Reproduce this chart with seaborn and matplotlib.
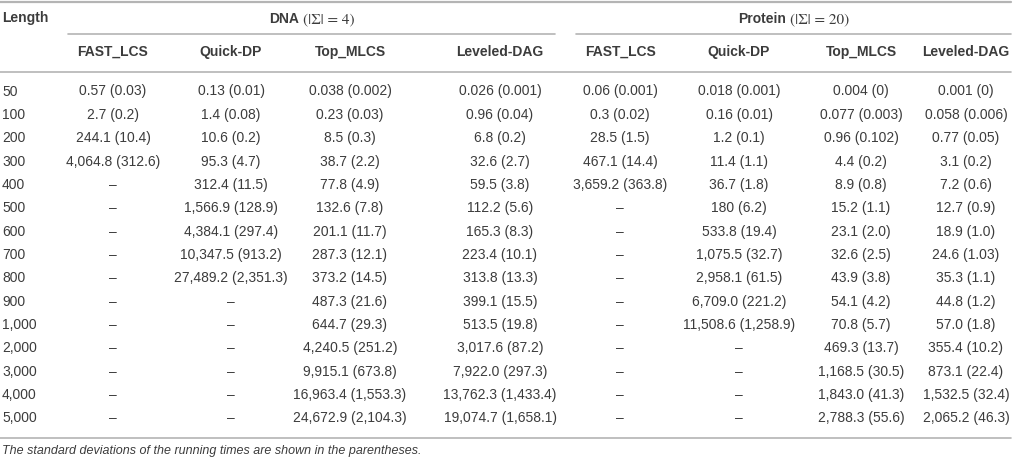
import matplotlib
matplotlib.use("Agg")
import matplotlib.pyplot as plt
import seaborn as sns

sns.set_theme(style="white")
plt.rcParams['font.family'] = ['Liberation Sans', 'DejaVu Sans']

# datos de la tabla (media y desviación estándar, como texto)
lengths = ["50", "100", "200", "300", "400", "500", "600", "700", "800", "900",
           "1,000", "2,000", "3,000", "4,000", "5,000"]
algorithms = ["FAST_LCS", "Quick-DP", "Top_MLCS", "Leveled-DAG"]
groups = ["DNA", "Protein"]
group_sigma = ["(|\u03a3| = 4)", "(|\u03a3| = 20)"]

dna_fast_lcs = ["0.57 (0.03)", "2.7 (0.2)", "244.1 (10.4)", "4,064.8 (312.6)"] + [None] * 11
dna_quick_dp = ["0.13 (0.01)", "1.4 (0.08)", "10.6 (0.2)", "95.3 (4.7)", "312.4 (11.5)",
                "1,566.9 (128.9)", "4,384.1 (297.4)", "10,347.5 (913.2)",
                "27,489.2 (2,351.3)"] + [None] * 6
dna_top_mlcs = ["0.038 (0.002)", "0.23 (0.03)", "8.5 (0.3)", "38.7 (2.2)", "77.8 (4.9)",
                "132.6 (7.8)", "201.1 (11.7)", "287.3 (12.1)", "373.2 (14.5)",
                "487.3 (21.6)", "644.7 (29.3)", "4,240.5 (251.2)", "9,915.1 (673.8)",
                "16,963.4 (1,553.3)", "24,672.9 (2,104.3)"]
dna_leveled_dag = ["0.026 (0.001)", "0.96 (0.04)", "6.8 (0.2)", "32.6 (2.7)", "59.5 (3.8)",
                   "112.2 (5.6)", "165.3 (8.3)", "223.4 (10.1)", "313.8 (13.3)",
                   "399.1 (15.5)", "513.5 (19.8)", "3,017.6 (87.2)", "7,922.0 (297.3)",
                   "13,762.3 (1,433.4)", "19,074.7 (1,658.1)"]
prot_fast_lcs = ["0.06 (0.001)", "0.3 (0.02)", "28.5 (1.5)", "467.1 (14.4)",
                 "3,659.2 (363.8)"] + [None] * 10
prot_quick_dp = ["0.018 (0.001)", "0.16 (0.01)", "1.2 (0.1)", "11.4 (1.1)", "36.7 (1.8)",
                 "180 (6.2)", "533.8 (19.4)", "1,075.5 (32.7)", "2,958.1 (61.5)",
                 "6,709.0 (221.2)", "11,508.6 (1,258.9)"] + [None] * 4
prot_top_mlcs = ["0.004 (0)", "0.077 (0.003)", "0.96 (0.102)", "4.4 (0.2)", "8.9 (0.8)",
                 "15.2 (1.1)", "23.1 (2.0)", "32.6 (2.5)", "43.9 (3.8)", "54.1 (4.2)",
                 "70.8 (5.7)", "469.3 (13.7)", "1,168.5 (30.5)", "1,843.0 (41.3)",
                 "2,788.3 (55.6)"]
prot_leveled_dag = ["0.001 (0)", "0.058 (0.006)", "0.77 (0.05)", "3.1 (0.2)", "7.2 (0.6)",
                    "12.7 (0.9)", "18.9 (1.0)", "24.6 (1.03)", "35.3 (1.1)", "44.8 (1.2)",
                    "57.0 (1.8)", "355.4 (10.2)", "873.1 (22.4)", "1,532.5 (32.4)",
                    "2,065.2 (46.3)"]
footnote = "The standard deviations of the running times are shown in the parentheses."

columns = [dna_fast_lcs, dna_quick_dp, dna_top_mlcs, dna_leveled_dag,
           prot_fast_lcs, prot_quick_dp, prot_top_mlcs, prot_leveled_dag]

# layout en píxeles
W, H = 1014, 461
col_x = [113, 231, 350, 500, 620, 739, 861, 966]
group_span = [(68, 555), (576, 1011)]
y_group, y_sub = 18, 52
y_first, row_h = 91.5, 23.35
txt_color = "#3c3c3c"
line_color = "#b4b4b4"
fs = 10

fig = plt.figure(figsize=(W / 100, H / 100), dpi=100)
ax = fig.add_axes([0, 0, 1, 1])
ax.set_xlim(0, W)
ax.set_ylim(H, 0)
ax.axis("off")

# reglas horizontales
y_last = y_first + row_h * (len(lengths) - 1)
ax.plot([0, 1011], [2, 2], color=line_color, lw=1.6)
ax.plot([0, 1011], [72, 72], color=line_color, lw=1.2)
ax.plot([0, 1011], [y_last + 20, y_last + 20], color=line_color, lw=1.2)
for x0, x1 in group_span:
    ax.plot([x0, x1], [34, 34], color=line_color, lw=1.2)

# encabezados
ax.text(2, y_group, "Length", ha="left", va="center", fontsize=fs,
        fontweight="bold", color=txt_color)
fig.canvas.draw()
renderer = fig.canvas.get_renderer()
for (x0, x1), name, sigma in zip(group_span, groups, group_sigma):
    t1 = ax.text(0, y_group + 5, name, ha="left", va="baseline", fontsize=fs,
                 fontweight="bold", color=txt_color)
    t2 = ax.text(0, y_group + 5, sigma, ha="left", va="baseline", fontsize=fs + 1,
                 family="STIXGeneral", color=txt_color)
    w1 = t1.get_window_extent(renderer).width
    w2 = t2.get_window_extent(renderer).width
    gap = 4
    left = (x0 + x1) / 2 - (w1 + gap + w2) / 2
    t1.set_x(left)
    t2.set_x(left + w1 + gap)

for i, x in enumerate(col_x):
    ax.text(x, y_sub, algorithms[i % 4], ha="center", va="center", fontsize=fs,
            fontweight="bold", color=txt_color)

# filas de datos
for r, length in enumerate(lengths):
    y = y_first + r * row_h
    ax.text(2, y, length, ha="left", va="center", fontsize=fs, color=txt_color)
    for x, col in zip(col_x, columns):
        val = col[r] if col[r] is not None else "\u2013"
        ax.text(x, y, val, ha="center", va="center", fontsize=fs, color=txt_color)

ax.text(2, y_last + 33, footnote, ha="left", va="center", fontsize=9,
        style="italic", color=txt_color)

fig.savefig("out.png", dpi=100)
plt.close(fig)
